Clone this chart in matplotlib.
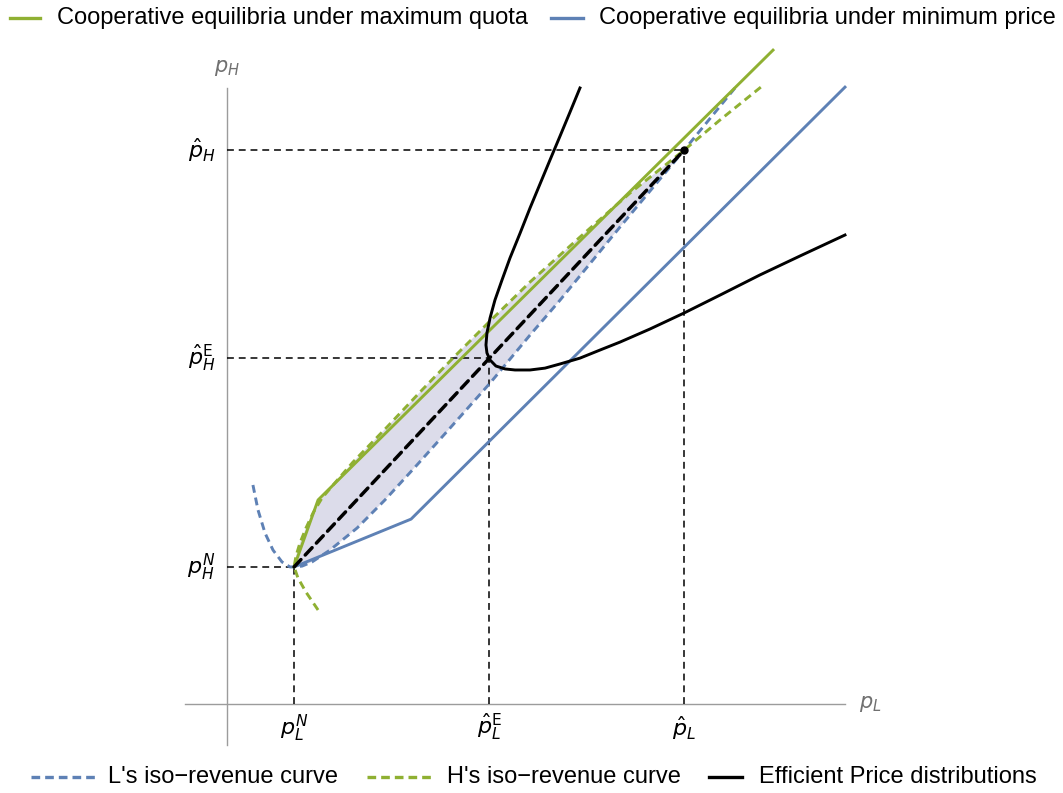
import matplotlib
matplotlib.use("Agg")
import matplotlib.pyplot as plt
from matplotlib.lines import Line2D

plt.rcParams['font.family'] = ['Liberation Sans', 'DejaVu Sans']
plt.rcParams['mathtext.fontset'] = 'dejavusans'

GREEN = '#8fb032'
BLUE = '#5e81b5'
SHADE = '#dcdcea'
AXIS_GREY = '#9c9c9c'

# reference prices (Nash, efficient, maximum)
pL_ticks = [0.344, 1.344, 2.344]
pH_ticks = [0.659, 1.663, 2.663]
pL_labels = [r'$p_L^N$', r'$\hat{p}_L^{\mathrm{E}}$', r'$\hat{p}_L$']
pH_labels = [r'$p_H^N$', r'$\hat{p}_H^{\mathrm{E}}$', r'$\hat{p}_H$']

# cooperative equilibria
quota_x = [0.344, 0.467, 2.800]
quota_y = [0.659, 0.981, 3.144]
minprice_x = [0.344, 0.944, 3.169]
minprice_y = [0.659, 0.889, 2.966]

# H's iso-revenue curve
isoH_x = [0.467, 0.405, 0.364, 0.344, 0.354, 0.374, 0.405, 0.441, 0.487, 0.544,
          0.646, 0.821, 0.990, 1.169, 1.344, 1.554, 1.810, 2.067, 2.344, 2.528, 2.744]
isoH_y = [0.452, 0.538, 0.606, 0.659, 0.712, 0.774, 0.846, 0.918, 0.990, 1.053,
          1.163, 1.332, 1.500, 1.673, 1.837, 2.029, 2.245, 2.457, 2.663, 2.808, 2.971]

# L's iso-revenue curve
isoL_x = [0.133, 0.159, 0.195, 0.236, 0.282, 0.323, 0.344, 0.385, 0.436, 0.528,
          0.667, 0.810, 0.974, 1.144, 1.349, 1.554, 1.708, 2.015, 2.344, 2.605]
isoL_y = [1.053, 0.933, 0.822, 0.740, 0.683, 0.659, 0.659, 0.663, 0.683, 0.740,
          0.846, 0.981, 1.149, 1.327, 1.543, 1.774, 1.942, 2.293, 2.663, 2.962]

# efficient price distributions
eff_x = [1.810, 1.759, 1.708, 1.656, 1.605, 1.554, 1.503, 1.451, 1.410, 1.374,
         1.349, 1.333, 1.328, 1.333, 1.349, 1.379, 1.426, 1.477, 1.554, 1.631,
         1.708, 1.810, 1.913, 2.015, 2.169, 2.344, 2.528, 2.733, 2.938, 3.169]
eff_y = [2.962, 2.846, 2.731, 2.615, 2.500, 2.385, 2.264, 2.144, 2.038, 1.942,
         1.856, 1.784, 1.726, 1.688, 1.654, 1.625, 1.611, 1.606, 1.606, 1.615,
         1.635, 1.663, 1.702, 1.740, 1.803, 1.880, 1.966, 2.063, 2.154, 2.255]

fig = plt.figure(figsize=(10.63, 7.93), dpi=100)
ax = fig.add_axes([0, 0, 1, 1])
ax.set_xlim(-1.164, 4.287)
ax.set_ylim(-0.428, 3.385)
ax.axis('off')

# shaded lens between the two iso-revenue curves, from N to the hat point
iN_h, iE_h = isoH_x.index(0.344), isoH_x.index(2.344)
iN_l, iE_l = isoL_x.index(0.344), isoL_x.index(2.344)
poly_x = isoH_x[iN_h:iE_h + 1] + isoL_x[iN_l:iE_l + 1][::-1]
poly_y = isoH_y[iN_h:iE_h + 1] + isoL_y[iN_l:iE_l + 1][::-1]
ax.fill(poly_x, poly_y, color=SHADE, lw=0, zorder=1)

# axes
ax.plot([-0.215, 3.169], [0, 0], color=AXIS_GREY, lw=1.0, zorder=2)
ax.plot([0, 0], [-0.197, 2.962], color=AXIS_GREY, lw=1.0, zorder=2)
ax.text(0.0, 3.06, r'$p_H$', color='#707070', fontsize=15, ha='center', va='center')
ax.text(3.30, 0.0, r'$p_L$', color='#707070', fontsize=15, ha='center', va='center')

# guide lines to the axes
for px, py in zip(pL_ticks, pH_ticks):
    ax.plot([0, px], [py, py], color='black', lw=1.1, dashes=(4.5, 3.2), zorder=3)
    ax.plot([px, px], [0, py], color='black', lw=1.1, dashes=(4.5, 3.2), zorder=3)

for px, lab in zip(pL_ticks, pL_labels):
    ax.text(px, -0.115, lab, fontsize=16, ha='center', va='center')
for py, lab in zip(pH_ticks, pH_labels):
    ax.text(-0.06, py, lab, fontsize=16, ha='right', va='center')

ax.plot(isoL_x, isoL_y, color=BLUE, lw=2.1, dashes=(2.7, 1.7), zorder=4)
ax.plot(isoH_x, isoH_y, color=GREEN, lw=2.1, dashes=(2.7, 1.7), zorder=4)
ax.plot(minprice_x, minprice_y, color=BLUE, lw=2.1, zorder=5)
ax.plot(quota_x, quota_y, color=GREEN, lw=2.1, zorder=5)
ax.plot(eff_x, eff_y, color='black', lw=2.1, zorder=6, solid_joinstyle='round')
ax.plot([pL_ticks[0], pL_ticks[2]], [pH_ticks[0], pH_ticks[2]], color='black',
        lw=2.5, dashes=(2.9, 1.8), dash_capstyle='round', solid_capstyle='round', zorder=7)
ax.plot([pL_ticks[2]], [pH_ticks[2]], 'o', color='black', ms=5, zorder=7)

# legends drawn in figure pixels
W, H = 1063, 793


def legend_item(x0, x1, y, color, dashed, label, tx):
    kw = dict(dashes=(2.6, 1.5)) if dashed else {}
    fig.add_artist(Line2D([x0 / W, x1 / W], [1 - y / H, 1 - y / H], color=color,
                          lw=2.4, transform=fig.transFigure, **kw))
    fig.text(tx / W, 1 - y / H, label, fontsize=17, ha='left', va='center')


legend_item(10, 40, 18, GREEN, False, 'Cooperative equilibria under maximum quota', 57)
legend_item(551, 583, 18, BLUE, False, 'Cooperative equilibria under minimum price', 599)
legend_item(31, 96, 777, BLUE, True, "L's iso\u2212revenue curve", 108)
legend_item(367, 434, 777, GREEN, True, "H's iso\u2212revenue curve", 447)
legend_item(709, 742, 777, 'black', False, 'Efficient Price distributions', 759)

fig.savefig('out.png', dpi=100)
